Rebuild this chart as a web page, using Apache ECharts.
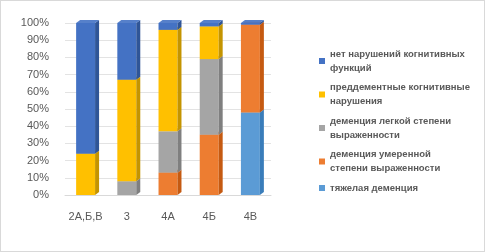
<!DOCTYPE html>
<html>
<head>
<meta charset="utf-8">
<script src="https://cdn.jsdelivr.net/npm/echarts@6/dist/echarts.min.js"></script>
<style>
  html, body { margin: 0; padding: 0; background: #fff; }
  #chart { width: 483px; height: 250px; border: 1px solid #d9d9d9; }
</style>
</head>
<body>
<div id="chart"></div>
<script>
// группы пациентов
const categories = ["2А,Б,В", "3", "4А", "4Б", "4В"];

// доли, % (сверху вниз в столбце)
const noImpairment = [76, 33, 4, 2, 1];
const predementia = [24, 59, 59, 19, 0];
const mildDementia = [0, 8, 24, 44, 0];
const moderateDementia = [0, 0, 13, 35, 51];
const severeDementia = [0, 0, 0, 0, 48];

const yTicks = [0, 100, 10]; // min, max, interval

// порядок отрисовки снизу вверх
const stack = [
    { name: "тяжелая деменция", values: severeDementia, color: "#5B9BD5", side: "#3A7DBA" },
    { name: "деменция умеренной степени выраженности", values: moderateDementia, color: "#ED7D31", side: "#C55A11" },
    { name: "деменция легкой степени выраженности", values: mildDementia, color: "#A5A5A5", side: "#7F7F7F" },
    { name: "преддементные когнитивные нарушения", values: predementia, color: "#FFC000", side: "#C49400" },
    { name: "нет нарушений когнитивных функций", values: noImpairment, color: "#4472C4", side: "#2F5597" },
];

const legendWrap = {
    "нет нарушений когнитивных функций": "нет нарушений когнитивных\nфункций",
    "преддементные когнитивные нарушения": "преддементные когнитивные\nнарушения",
    "деменция легкой степени выраженности": "деменция легкой степени\nвыраженности",
    "деменция умеренной степени выраженности": "деменция умеренной\nстепени выраженности",
    "тяжелая деменция": "тяжелая деменция",
};

const chart = echarts.init(document.getElementById("chart"), null, { renderer: "canvas" });

const base = categories.map(() => 0);
const series = stack.map((s) => {
    const data = s.values.map((v, i) => {
        const from = base[i];
        base[i] += v;
        return [i, from, base[i]];
    });
    return {
        name: s.name,
        type: "custom",
        itemStyle: { color: s.color },
        encode: { x: 0, y: [1, 2] },
        data: data,
        renderItem: (params, api) => {
            const lo = api.value(1);
            const hi = api.value(2);
            if (hi - lo <= 0) return;
            const p0 = api.coord([api.value(0), lo]);
            const p1 = api.coord([api.value(0), hi]);
            const w = api.size([1, 0])[0] * 0.46;
            const x = p0[0] - w / 2;
            const dx = 4, dy = -3;
            return {
                type: "group",
                children: [
                    {
                        type: "rect",
                        shape: { x: x, y: p1[1], width: w, height: p0[1] - p1[1] },
                        style: { fill: s.color },
                    },
                    {
                        type: "polygon",
                        shape: { points: [[x + w, p1[1]], [x + w + dx, p1[1] + dy], [x + w + dx, p0[1] + dy], [x + w, p0[1]]] },
                        style: { fill: s.side },
                    },
                    {
                        type: "polygon",
                        shape: { points: [[x, p1[1]], [x + dx, p1[1] + dy], [x + w + dx, p1[1] + dy], [x + w, p1[1]]] },
                        style: { fill: s.color, opacity: 0.9 },
                    },
                ],
            };
        },
    };
});

chart.setOption({
    backgroundColor: "#ffffff",
    animation: false,
    textStyle: { fontFamily: "Liberation Sans" },
    grid: { left: 64, right: 213, top: 22, bottom: 56 },
    legend: {
        orient: "vertical",
        left: 318,
        top: 39,
        padding: 0,
        itemWidth: 6,
        itemHeight: 6,
        itemGap: -8.5,
        icon: "rect",
        data: stack.map((s) => s.name).reverse().map((n) => ({
            name: n,
            textStyle: { padding: [14, 0, 0, 0] },
        })),
        formatter: (n) => legendWrap[n],
        textStyle: { fontSize: 9.5, fontWeight: "bold", color: "#595959", lineHeight: 14 },
    },
    xAxis: {
        type: "category",
        data: categories,
        axisLine: { lineStyle: { color: "#d9d9d9" } },
        axisTick: { show: false },
        axisLabel: { color: "#595959", fontSize: 11, margin: 16, interval: 0 },
    },
    yAxis: {
        type: "value",
        min: yTicks[0],
        max: yTicks[1],
        interval: yTicks[2],
        axisLine: { show: false },
        axisTick: { show: false },
        axisLabel: { color: "#595959", fontSize: 11, formatter: "{value}%", margin: 16 },
        splitLine: { lineStyle: { color: "#e3e3e3" } },
    },
    series: series,
});
</script>
</body>
</html>
